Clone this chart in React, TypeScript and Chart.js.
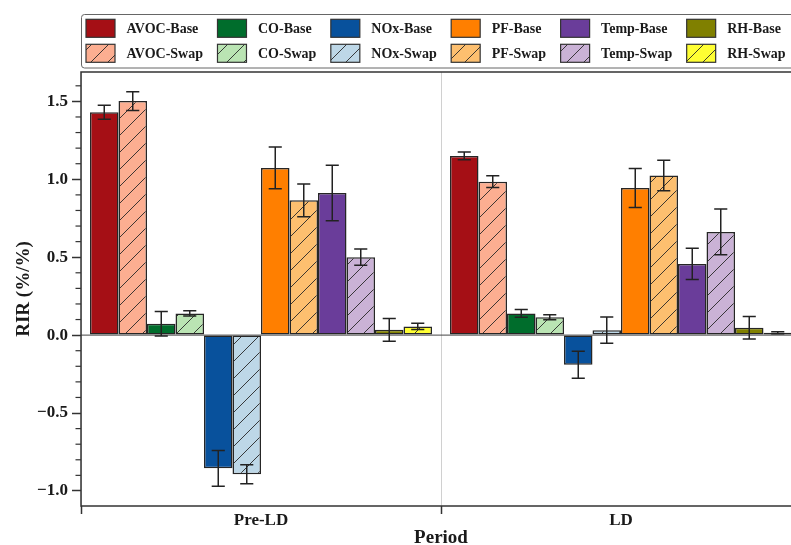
import React, { useEffect, useRef } from 'react';
import { Chart, registerables } from 'chart.js';

Chart.register(...registerables);

// ---------- data ----------
const categories = ['Pre-LD', 'LD'];

const seriesNames = [
  'AVOC-Base', 'AVOC-Swap',
  'CO-Base', 'CO-Swap',
  'NOx-Base', 'NOx-Swap',
  'PF-Base', 'PF-Swap',
  'Temp-Base', 'Temp-Swap',
  'RH-Base', 'RH-Swap',
];

const avocBase = [1.43, 1.15];
const avocSwap = [1.502, 0.985];
const coBase = [0.073, 0.139];
const coSwap = [0.139, 0.115];
const noxBase = [-0.855, -0.19];
const noxSwap = [-0.893, 0.032];
const pfBase = [1.073, 0.944];
const pfSwap = [0.865, 1.024];
const tempBase = [0.912, 0.457];
const tempSwap = [0.5, 0.662];
const rhBase = [0.034, 0.047];
const rhSwap = [0.056, 0.015];

const avocBaseErr = [0.045, 0.025];
const avocSwapErr = [0.06, 0.038];
const coBaseErr = [0.079, 0.025];
const coSwapErr = [0.017, 0.016];
const noxBaseErr = [0.115, 0.087];
const noxSwapErr = [0.061, 0.084];
const pfBaseErr = [0.134, 0.125];
const pfSwapErr = [0.105, 0.098];
const tempBaseErr = [0.178, 0.1];
const tempSwapErr = [0.052, 0.147];
const rhBaseErr = [0.073, 0.072];
const rhSwapErr = [0.02, 0.006];

const seriesValues = [
  avocBase, avocSwap, coBase, coSwap, noxBase, noxSwap,
  pfBase, pfSwap, tempBase, tempSwap, rhBase, rhSwap,
];
const seriesErrors = [
  avocBaseErr, avocSwapErr, coBaseErr, coSwapErr, noxBaseErr, noxSwapErr,
  pfBaseErr, pfSwapErr, tempBaseErr, tempSwapErr, rhBaseErr, rhSwapErr,
];

const seriesColors = [
  '#a50f15', '#fcae91',
  '#006d2c', '#bae4b3',
  '#08519c', '#bdd7e7',
  '#ff7f00', '#fdbf6f',
  '#6a3d9a', '#cab2d6',
  '#808000', '#ffff33',
];
const seriesHatched = [false, true, false, true, false, true, false, true, false, true, false, true];

const yMajorTicks = [-1.0, -0.5, 0.0, 0.5, 1.0, 1.5];
const yMinorStep = 0.1;

const xTitle = 'Period';
const yTitle = 'RIR (%/%)';

// ---------- helpers ----------
const FONT = '"Liberation Serif", "Times New Roman", serif';
const INK = '#1a1a1a';

function makeHatch(color: string): CanvasPattern | string {
  const s = 17;
  const c = document.createElement('canvas');
  c.width = s;
  c.height = s;
  const g = c.getContext('2d');
  if (!g) return color;
  g.fillStyle = color;
  g.fillRect(0, 0, s, s);
  g.strokeStyle = 'rgba(40,40,40,0.9)';
  g.lineWidth = 1;
  g.beginPath();
  for (const k of [-1, 0, 1]) {
    g.moveTo(k * s, s);
    g.lineTo(k * s + s, 0);
  }
  g.stroke();
  const p = g.createPattern(c, 'repeat');
  return p || color;
}

function fmtTick(v: number): string {
  const s = (Math.round(v * 10) / 10).toFixed(1);
  return s.replace('-', '\u2212');
}

export default function App() {
  const ref = useRef<HTMLCanvasElement | null>(null);

  useEffect(() => {
    const canvas = ref.current;
    if (!canvas) return;

    const fills = seriesColors.map((c, i) => (seriesHatched[i] ? makeHatch(c) : c));

    let lo = Infinity;
    let hi = -Infinity;
    seriesValues.forEach((vals, i) => {
      vals.forEach((v, j) => {
        const e = seriesErrors[i][j];
        lo = Math.min(lo, v - e, 0);
        hi = Math.max(hi, v + e, 0);
      });
    });
    const pad = 0.05 * (hi - lo);
    const yMin = lo - pad;
    const yMax = hi + pad;

    const overlay = {
      id: 'overlay',
      beforeDatasetsDraw(chart: any) {
        const { ctx, chartArea, scales } = chart;
        const y0 = scales.y.getPixelForValue(0);
        ctx.save();
        ctx.strokeStyle = '#444';
        ctx.lineWidth = 1;
        ctx.beginPath();
        ctx.moveTo(chartArea.left, y0);
        ctx.lineTo(chartArea.right, y0);
        ctx.stroke();
        ctx.restore();
      },
      afterDatasetsDraw(chart: any) {
        const { ctx, chartArea, scales } = chart;
        const ys = scales.y;
        ctx.save();
        // error bars
        ctx.strokeStyle = '#222';
        ctx.lineWidth = 1.5;
        seriesValues.forEach((vals, i) => {
          const meta = chart.getDatasetMeta(i);
          vals.forEach((v, j) => {
            const el = meta.data[j];
            if (!el) return;
            const e = seriesErrors[i][j];
            const x = el.x;
            const cap = el.width * 0.23;
            const yt = ys.getPixelForValue(v + e);
            const yb = ys.getPixelForValue(v - e);
            ctx.beginPath();
            ctx.moveTo(x, yt);
            ctx.lineTo(x, yb);
            ctx.moveTo(x - cap, yt);
            ctx.lineTo(x + cap, yt);
            ctx.moveTo(x - cap, yb);
            ctx.lineTo(x + cap, yb);
            ctx.stroke();
          });
        });
        // frame
        ctx.strokeStyle = '#333';
        ctx.lineWidth = 1.5;
        ctx.strokeRect(chartArea.left, chartArea.top, chartArea.right - chartArea.left, chartArea.bottom - chartArea.top);
        // minor y ticks
        ctx.lineWidth = 1.2;
        const start = Math.ceil(ys.min / yMinorStep);
        const end = Math.floor(ys.max / yMinorStep);
        for (let k = start; k <= end; k++) {
          const v = k * yMinorStep;
          if (Math.abs(v / 0.5 - Math.round(v / 0.5)) < 1e-6) continue;
          const py = ys.getPixelForValue(v);
          ctx.beginPath();
          ctx.moveTo(chartArea.left - 5.5, py);
          ctx.lineTo(chartArea.left, py);
          ctx.stroke();
        }
        ctx.restore();
      },
      afterDraw(chart: any) {
        const { ctx } = chart;
        ctx.save();
        // legend box
        const boxL = 81;
        const boxT = 14;
        const boxR = 812;
        const boxB = 67.5;
        ctx.fillStyle = 'rgba(255,255,255,0.9)';
        ctx.strokeStyle = '#666';
        ctx.lineWidth = 1;
        ctx.beginPath();
        (ctx as any).roundRect(boxL + 0.5, boxT + 0.5, boxR - boxL, boxB - boxT, 3);
        ctx.fill();
        ctx.stroke();

        ctx.font = `bold 14px ${FONT}`;
        ctx.textBaseline = 'alphabetic';
        ctx.textAlign = 'left';
        const swW = 29;
        const swH = 18;
        const textOff = 40.5;
        const colGap = 14.5;
        const rowCenters = [28.3, 53.3];
        let x = 86;
        const nCols = seriesNames.length / 2;
        for (let c = 0; c < nCols; c++) {
          let maxW = 0;
          for (let r = 0; r < 2; r++) {
            const idx = c * 2 + r;
            const cy = rowCenters[r];
            ctx.fillStyle = fills[idx] as any;
            ctx.fillRect(x, cy - swH / 2, swW, swH);
            ctx.strokeStyle = '#333';
            ctx.lineWidth = 1.2;
            ctx.strokeRect(x, cy - swH / 2, swW, swH);
            ctx.fillStyle = INK;
            ctx.fillText(seriesNames[idx], x + textOff, cy + 5);
            maxW = Math.max(maxW, ctx.measureText(seriesNames[idx]).width);
          }
          x = x + textOff + maxW + colGap;
        }
        ctx.restore();
      },
    };

    const chart = new Chart(canvas, {
      type: 'bar',
      data: {
        labels: categories,
        datasets: seriesNames.map((name, i) => ({
          label: name,
          data: seriesValues[i],
          backgroundColor: fills[i] as any,
          borderColor: '#262626',
          borderWidth: 1.5,
          borderSkipped: false,
          categoryPercentage: 0.95,
          barPercentage: 1.0,
        })),
      },
      options: {
        animation: false,
        responsive: false,
        maintainAspectRatio: false,
        layout: { padding: { top: 72, right: 29, left: 0, bottom: 0 } },
        plugins: {
          legend: { display: false },
          tooltip: { enabled: false },
        },
        scales: {
          x: {
            type: 'category',
            offset: true,
            grid: {
              offset: true,
              color: '#d0d0d0',
              lineWidth: 1,
              drawOnChartArea: true,
              drawTicks: true,
              tickLength: 8,
              tickColor: '#333',
              tickWidth: 1.5,
            },
            border: { display: false },
            ticks: {
              color: INK,
              font: { family: FONT, size: 17, weight: 'bold' },
              padding: -4,
              maxRotation: 0,
            },
            title: {
              display: true,
              text: xTitle,
              color: INK,
              font: { family: FONT, size: 19, weight: 'bold', lineHeight: 0.75 },
              padding: { top: 0, bottom: 0 },
            },
            afterFit: (s: any) => {
              s.height = 39;
            },
          },
          y: {
            type: 'linear',
            min: yMin,
            max: yMax,
            afterBuildTicks: (s: any) => {
              s.ticks = yMajorTicks.map((v) => ({ value: v }));
            },
            grid: {
              drawOnChartArea: false,
              drawTicks: true,
              tickLength: 9,
              tickColor: '#333',
              tickWidth: 1.5,
            },
            border: { display: false },
            ticks: {
              color: INK,
              font: { family: FONT, size: 17, weight: 'bold' },
              padding: 4,
              callback: (v: any) => fmtTick(Number(v)),
            },
            title: {
              display: true,
              text: yTitle,
              color: INK,
              font: { family: FONT, size: 19, weight: 'bold' },
              padding: { top: 13, bottom: 0 },
            },
            afterFit: (s: any) => {
              s.width = 81;
            },
          },
        },
      } as any,
      plugins: [overlay],
    });

    return () => {
      chart.destroy();
    };
  }, []);

  return (
    <div style={{ position: 'fixed', left: 0, top: 0, width: 791, height: 545, overflow: 'hidden', background: '#fff' }}>
      <canvas ref={ref} width={830} height={545} style={{ display: 'block', width: 830, height: 545 }} />
    </div>
  );
}
